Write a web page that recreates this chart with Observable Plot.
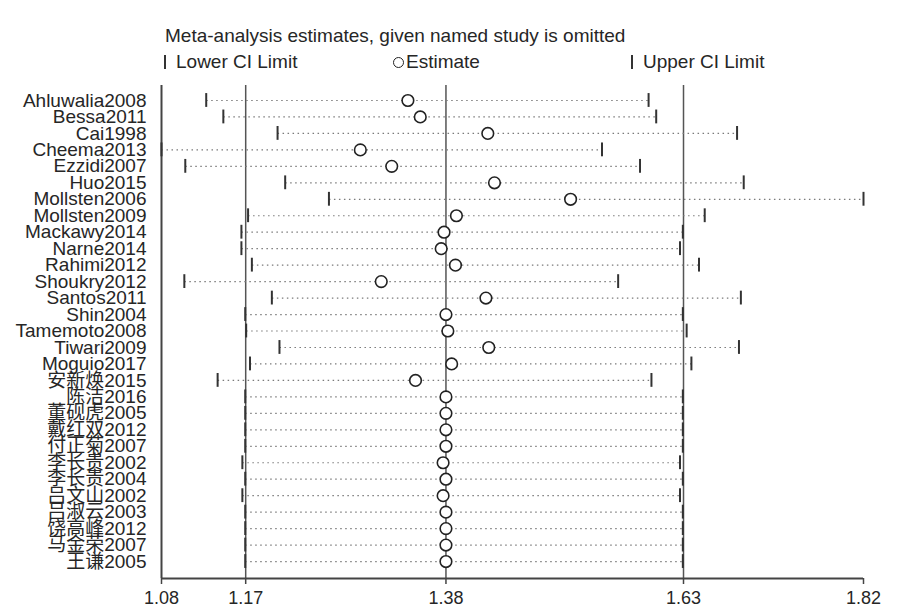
<!DOCTYPE html>
<html><head><meta charset="utf-8">
<script src="https://cdn.jsdelivr.net/npm/d3@7"></script>
<script src="https://cdn.jsdelivr.net/npm/@observablehq/plot@0.6"></script>
<style>
body{margin:0;background:#fff;font-family:"Liberation Sans",Arial,"Noto Sans CJK SC",sans-serif;}
#wrap{position:relative;width:924px;height:609px;overflow:hidden;}
#head{position:relative;height:78px;color:#262626;font-size:19px;}
#head div{position:absolute;white-space:nowrap;line-height:22px;}
.bar{display:inline-block;width:2px;height:14px;background:#333;vertical-align:-1px;}
.circ{display:inline-block;width:9px;height:9px;border:1.6px solid #222;border-radius:50%;vertical-align:0px;}
#chart svg{display:block;}
</style></head>
<body><div id="wrap">
<div id="head">
  <div style="left:165px;top:25px">Meta-analysis estimates, given named study is omitted</div>
  <div style="left:164px;top:51px"><span class="bar"></span></div>
  <div style="left:176px;top:51px">Lower CI Limit</div>
  <div style="left:393px;top:51px"><span class="circ"></span></div>
  <div style="left:406px;top:51px">Estimate</div>
  <div style="left:631px;top:51px"><span class="bar"></span></div>
  <div style="left:643px;top:51px">Upper CI Limit</div>
</div>
<div id="chart"></div>
</div>
<script>
const studies = ["Ahluwalia2008","Bessa2011","Cai1998","Cheema2013","Ezzidi2007","Huo2015","Mollsten2006","Mollsten2009","Mackawy2014","Narne2014","Rahimi2012","Shoukry2012","Santos2011","Shin2004","Tamemoto2008","Tiwari2009","Moguio2017","安新焕2015","陈洁2016","董砚虎2005","戴红双2012","付正菊2007","李长贵2002","李长贵2004","吕文山2002","吕淑云2003","饶高峰2012","马金荣2007","王谦2005"];
const lowerCI = [1.125,1.143,1.200,1.078,1.103,1.208,1.254,1.169,1.162,1.162,1.173,1.102,1.194,1.166,1.167,1.202,1.171,1.137,1.166,1.166,1.166,1.166,1.163,1.166,1.163,1.166,1.166,1.166,1.166];
const estimate = [1.337,1.350,1.421,1.287,1.320,1.428,1.508,1.388,1.375,1.372,1.387,1.309,1.419,1.377,1.379,1.422,1.383,1.345,1.377,1.377,1.377,1.377,1.374,1.377,1.374,1.377,1.377,1.377,1.377];
const upperCI = [1.590,1.598,1.683,1.541,1.581,1.690,1.8159,1.649,1.626,1.623,1.643,1.558,1.687,1.626,1.630,1.685,1.635,1.593,1.626,1.626,1.626,1.626,1.623,1.626,1.623,1.626,1.626,1.626,1.626];
const overallLines = [1.1665, 1.377, 1.6267];
const xTickValues = [1.078, 1.1665, 1.377, 1.6267, 1.8159];
const xTickLabels = ["1.08","1.17","1.38","1.63","1.82"];

const rows = studies.map((s, i) => ({i, study: s, lo: lowerCI[i], est: estimate[i], hi: upperCI[i]}));
const n = studies.length;
const xMin = d3.min(lowerCI), xMax = d3.max(upperCI);

const chart = Plot.plot({
  width: 924,
  height: 531,
  marginTop: 7,
  marginBottom: 31,
  marginLeft: 161,
  marginRight: 61,
  style: {fontFamily: '"Liberation Sans", Arial, "Noto Sans CJK SC", sans-serif', color: "#262626", background: "#fff"},
  x: {domain: [xMin, xMax]},
  y: {domain: [n - 1 + 1.03, -0.91]},
  marks: [
    Plot.ruleX(overallLines, {stroke: "#555", strokeWidth: 1.5}),
    Plot.ruleX([xMin], {stroke: "#444", strokeWidth: 2}),
    Plot.ruleY([n - 1 + 1.03], {stroke: "#444", strokeWidth: 2}),
    Plot.link(rows, {x1: "lo", x2: "hi", y1: "i", y2: "i", stroke: "#7a7a7a", strokeWidth: 1.2, strokeDasharray: "1.5,3.5"}),
    Plot.ruleX(rows, {x: "lo", y1: d => d.i - 0.42, y2: d => d.i + 0.42, stroke: "#333", strokeWidth: 2}),
    Plot.ruleX(rows, {x: "hi", y1: d => d.i - 0.42, y2: d => d.i + 0.42, stroke: "#333", strokeWidth: 2}),
    Plot.dot(rows, {x: "est", y: "i", r: 5.8, fill: "#fff", stroke: "#222", strokeWidth: 1.6}),
    Plot.axisY({ticks: d3.range(n), tickFormat: i => studies[i], tickSize: 0, tickPadding: 15, fontSize: 19, label: null, fill: "#262626"}),
    Plot.axisX({ticks: xTickValues, tickFormat: (d, k) => xTickLabels[k], tickSize: 6, tickPadding: 7, fontSize: 18, label: null, stroke: "#444", strokeWidth: 1.5, fill: "#262626"})
  ]
});
document.getElementById("chart").appendChild(chart);
</script>
</body></html>
